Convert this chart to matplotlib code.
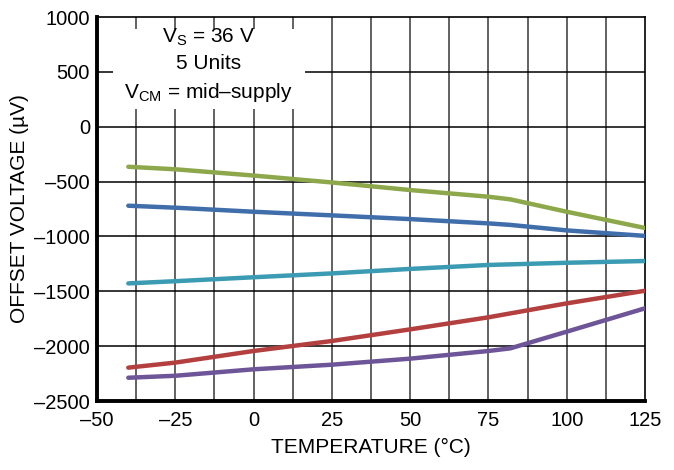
import numpy as np
import matplotlib
matplotlib.use("Agg")
import matplotlib.pyplot as plt
from matplotlib.patches import Rectangle

plt.rcParams['font.family'] = ['Liberation Sans', 'DejaVu Sans']
plt.rcParams['mathtext.fontset'] = 'custom'
plt.rcParams['mathtext.rm'] = 'Liberation Sans'
plt.rcParams['mathtext.it'] = 'Liberation Sans'

temp = [-40, -25, 0, 25, 50, 75, 82, 100, 125]
unit_green = [-365, -388, -445, -508, -577, -638, -662, -775, -923]
unit_blue = [-720, -738, -775, -808, -842, -881, -895, -945, -995]
temp_lin = [-40, -25, 0, 25, 50, 75, 100, 125]
unit_cyan = [-1428, -1408, -1372, -1337, -1296, -1260, -1240, -1224]
unit_red = [-2196, -2150, -2044, -1953, -1847, -1737, -1610, -1495]
unit_purple = [-2288, -2270, -2211, -2169, -2114, -2044, -2020, -1868, -1655]

colors = ['#8da84b', '#3f6eab', '#3b9bb2', '#b3403f', '#6e5598']

fig = plt.figure(figsize=(6.74, 4.70), dpi=100)
ax = fig.add_axes([0.1439, 0.1468, 0.8131, 0.817])

# grid
for x in np.arange(-37.5, 125, 12.5):
    ax.axvline(x, color='#555555', lw=1.3, zorder=1)
for y in np.arange(-2000, 1000, 500):
    ax.axhline(y, color='black', lw=1.1, zorder=1)

lw = 3.2
ax.plot(temp, unit_green, color=colors[0], lw=lw, solid_capstyle='round', zorder=3)
ax.plot(temp, unit_blue, color=colors[1], lw=lw, solid_capstyle='round', zorder=3)
ax.plot(temp_lin, unit_cyan, color=colors[2], lw=lw, solid_capstyle='round', zorder=3)
ax.plot(temp_lin, unit_red, color=colors[3], lw=lw, solid_capstyle='round', zorder=3)
ax.plot(temp, unit_purple, color=colors[4], lw=lw, solid_capstyle='round', zorder=3)

ax.set_xlim(-50, 125)
ax.set_ylim(-2500, 1000)
ax.set_xticks(np.arange(-50, 126, 25))
ax.set_yticks(np.arange(-2500, 1001, 500))
ax.tick_params(length=0, labelsize=14.5)
ax.tick_params(axis='y', pad=5)
ax.tick_params(axis='x', pad=7)
ax.set_xticklabels([str(v).replace('-', '\u2013') for v in range(-50, 126, 25)])
ax.set_yticklabels([str(v).replace('-', '\u2013') for v in range(-2500, 1001, 500)])

for side in ['left', 'bottom']:
    ax.spines[side].set_linewidth(2.8)
for side in ['top', 'right']:
    ax.spines[side].set_linewidth(1.2)

ax.set_xlabel('TEMPERATURE (°C)', fontsize=15, labelpad=6)
ax.set_ylabel('OFFSET VOLTAGE (µV)', fontsize=15, labelpad=4)

# white box behind the annotation
ax.add_patch(Rectangle((0.029, 0.76), 0.35, 0.209, transform=ax.transAxes,
                       facecolor='white', edgecolor='none', zorder=2))
ax.text(-14.5, 560,
        'V$_\\mathrm{S}$ = 36 V\n5 Units\nV$_\\mathrm{CM}$ = mid\u2013supply',
        ha='center', va='center', fontsize=15, linespacing=1.45, zorder=2.5)

fig.savefig('out.png', dpi=100)
